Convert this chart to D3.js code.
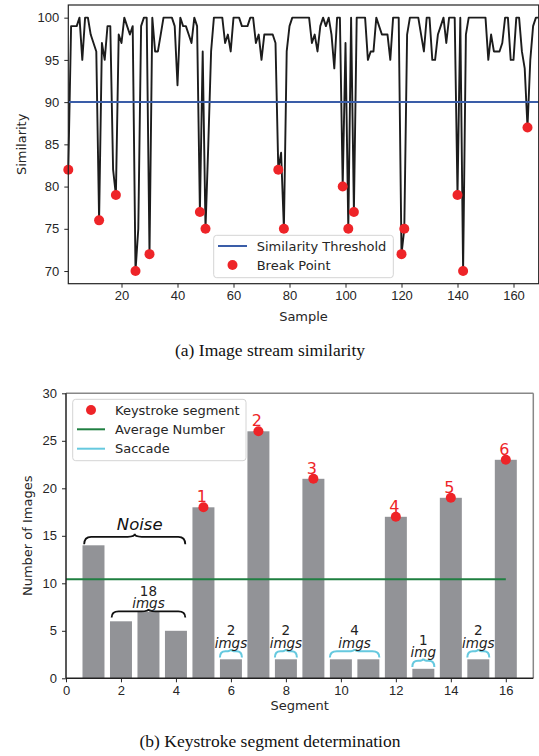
<!DOCTYPE html>
<html lang="en">
<head>
<meta charset="UTF-8" />
<title>Image stream similarity / Keystroke segment determination</title>
<script src="https://d3js.org/d3.v7.min.js"></script>
<style>
  body { margin: 0; background: #fff; }
  svg { display: block; font-family: "DejaVu Sans", sans-serif; }
  .tick text { font-size: 13px; fill: #262626; }
  .tick line { stroke: #262626; }
  .axis-label { font-size: 13px; fill: #262626; }
  .legend text { font-size: 13px; fill: #262626; }
  .caption { font-family: "Liberation Serif", serif; font-size: 17.5px; fill: #111; }
</style>
</head>
<body>
<svg width="539" height="756"></svg>
<script>
// ---- (a) image stream similarity, samples 1..169 ----
const similarity = [
  82, 99, 99, 99, 100, 95, 100, 100, 98, 97,
  96, 76, 97, 95, 99, 99, 82, 79, 98, 97,
  100, 99, 98, 99, 70, 75, 99, 100, 100, 72,
  100, 96, 96, 98, 100, 100, 100, 100, 99, 92,
  100, 99, 99, 98, 97, 100, 99, 77, 96, 75,
  85, 96, 100, 100, 100, 100, 97, 98, 96, 100,
  100, 100, 99, 99, 99, 100, 100, 97, 98, 95,
  98, 98, 98, 98, 97, 82, 84, 75, 96, 99,
  100, 100, 100, 100, 100, 100, 100, 97, 98, 96,
  99, 100, 99, 100, 98, 94, 100, 100, 80, 97,
  75, 100, 77, 100, 100, 100, 100, 95, 96, 96,
  100, 99, 98, 98, 98, 95, 100, 100, 100, 72,
  75, 98, 100, 100, 100, 100, 98, 96, 100, 100,
  95, 95, 98, 99, 100, 97, 100, 100, 100, 79,
  100, 70, 98, 100, 100, 100, 100, 100, 100, 100,
  95, 98, 96, 96, 96, 97, 100, 100, 95, 95,
  100, 100, 96, 94, 87, 95, 99, 100, 100
];
const breakSamples = [1, 12, 18, 25, 30, 48, 50, 76, 78, 99, 101, 103, 120, 121, 140, 142, 165];
const similarityThreshold = 90;
const sampleTicks = [20, 40, 60, 80, 100, 120, 140, 160];
const similarityTicks = [70, 75, 80, 85, 90, 95, 100];

// ---- (b) keystroke segment determination ----
const segments = [1, 2, 3, 4, 5, 6, 7, 8, 9, 10, 11, 12, 13, 14, 15, 16];
const imageCounts = [14, 6, 7, 5, 18, 2, 26, 2, 21, 2, 2, 17, 1, 19, 2, 23];
const keystrokeSegments = [5, 7, 9, 12, 14, 16];
const keystrokeLabels = ["1", "2", "3", "4", "5", "6"];
const saccadeStart = [6, 8, 10, 13, 15];
const saccadeEnd = [6, 8, 11, 13, 15];
const saccadeCounts = ["2", "2", "4", "1", "2"];
const saccadeUnits = ["imgs", "imgs", "imgs", "img", "imgs"];
const noiseSegments = [1, 4];
const noiseImgSegments = [2, 4];
const noiseImgCount = "18";
const segmentTicks = [0, 2, 4, 6, 8, 10, 12, 14, 16];
const imageTicks = [0, 5, 10, 15, 20, 25, 30];

const RED = "#ee2428", BLUE = "#3a5da8", GREEN = "#1f7f41", CYAN = "#66c9df", GREY = "#929397";

const svg = d3.select("svg");

function bracePath(x0, x1, yEnd, h) {
  const mid = (x0 + x1) / 2, yh = yEnd - h * 0.72, yt = yEnd - h;
  const r = Math.min(7, (x1 - x0) / 4);
  return `M${x0},${yEnd} Q${x0},${yh} ${x0 + r},${yh} L${mid - r},${yh} Q${mid},${yh} ${mid},${yt}` +
         ` Q${mid},${yh} ${mid + r},${yh} L${x1 - r},${yh} Q${x1},${yh} ${x1},${yEnd}`;
}

// small "count over unit" label used above the braces
function countLabel(g, x, yEnd, count, unitText) {
  g.append("text")
    .attr("x", x).attr("y", yEnd - 22)
    .attr("text-anchor", "middle").attr("font-size", 13.5).attr("fill", "#222").text(count);
  g.append("text")
    .attr("x", x).attr("y", yEnd - 9.5)
    .attr("text-anchor", "middle").attr("font-size", 13.5).attr("font-style", "italic")
    .attr("fill", "#222").text(unitText);
}

// ================= chart (a) =================
const xA = d3.scaleLinear().domain([1, 169]).range([68.3, 538.7]);
const yA = d3.scaleLinear().domain([68.5, 101.5]).range([283.7, 5]);
const gA = svg.append("g");

gA.append("g")
  .attr("transform", `translate(0,${yA.range()[0]})`)
  .call(d3.axisBottom(xA).tickValues(sampleTicks).tickSize(4).tickPadding(3))
  .call(g => g.select(".domain").remove());
gA.append("g")
  .attr("transform", `translate(${xA.range()[0]},0)`)
  .call(d3.axisLeft(yA).tickValues(similarityTicks).tickSize(4).tickPadding(5))
  .call(g => g.select(".domain").remove());

gA.append("path")
  .datum(similarity)
  .attr("fill", "none")
  .attr("stroke", "#1c1c1c")
  .attr("stroke-width", 1.9)
  .attr("stroke-linejoin", "round")
  .attr("d", d3.line().x((d, i) => xA(i + 1)).y(d => yA(d)));

gA.append("line")
  .attr("x1", xA.range()[0]).attr("x2", xA.range()[1])
  .attr("y1", yA(similarityThreshold)).attr("y2", yA(similarityThreshold))
  .attr("stroke", BLUE).attr("stroke-width", 2);

gA.selectAll(".bp")
  .data(breakSamples)
  .join("circle")
  .attr("class", "bp")
  .attr("cx", d => xA(d))
  .attr("cy", d => yA(similarity[d - 1]))
  .attr("r", 5)
  .attr("fill", RED);

gA.append("rect")
  .attr("x", xA.range()[0]).attr("y", yA.range()[1])
  .attr("width", xA.range()[1] - xA.range()[0])
  .attr("height", yA.range()[0] - yA.range()[1])
  .attr("fill", "none").attr("stroke", "#222").attr("stroke-width", 1.2);

const legA = gA.append("g").attr("class", "legend");
legA.append("rect")
  .attr("x", 213.7).attr("y", 235.3).attr("width", 179.6).attr("height", 42.4).attr("rx", 3)
  .attr("fill", "#fff").attr("fill-opacity", 0.85).attr("stroke", "#d4d4d4");
legA.append("line").attr("x1", 218).attr("x2", 247).attr("y1", 246).attr("y2", 246)
  .attr("stroke", BLUE).attr("stroke-width", 2);
legA.append("circle").attr("cx", 232.5).attr("cy", 265).attr("r", 5).attr("fill", RED);
legA.append("text").attr("x", 256.7).attr("y", 250.5).text("Similarity Threshold");
legA.append("text").attr("x", 256.7).attr("y", 269.5).text("Break Point");

gA.append("text").attr("class", "axis-label")
  .attr("transform", `translate(25.5,${(yA.range()[0] + yA.range()[1]) / 2}) rotate(-90)`)
  .attr("text-anchor", "middle").text("Similarity");
gA.append("text").attr("class", "axis-label")
  .attr("x", (xA.range()[0] + xA.range()[1]) / 2).attr("y", 321)
  .attr("text-anchor", "middle").text("Sample");
gA.append("text").attr("class", "caption")
  .attr("x", 270).attr("y", 356).attr("text-anchor", "middle")
  .text("(a)  Image stream similarity");

// ================= chart (b) =================
const xB = d3.scaleLinear().domain([0, 17]).range([66, 533.3]);
const yB = d3.scaleLinear().domain([0, 30]).range([678.3, 393.3]);
const gB = svg.append("g");
const unit = xB(1) - xB(0);

gB.append("g")
  .attr("transform", `translate(0,${yB.range()[0]})`)
  .call(d3.axisBottom(xB).tickValues(segmentTicks).tickSize(4).tickPadding(3))
  .call(g => g.select(".domain").remove());
gB.append("g")
  .attr("transform", `translate(${xB.range()[0]},0)`)
  .call(d3.axisLeft(yB).tickValues(imageTicks).tickSize(4).tickPadding(5))
  .call(g => g.select(".domain").remove());

gB.selectAll(".bar")
  .data(segments)
  .join("rect")
  .attr("class", "bar")
  .attr("x", d => xB(d - 0.4))
  .attr("width", unit * 0.8)
  .attr("y", (d, i) => yB(imageCounts[i]))
  .attr("height", (d, i) => yB(0) - yB(imageCounts[i]))
  .attr("fill", GREY);

const avg = d3.mean(imageCounts);
gB.append("line")
  .attr("x1", xB(0)).attr("x2", xB(16))
  .attr("y1", yB(avg)).attr("y2", yB(avg))
  .attr("stroke", GREEN).attr("stroke-width", 2);

// keystroke segments
gB.selectAll(".ks")
  .data(keystrokeSegments)
  .join("circle")
  .attr("class", "ks")
  .attr("cx", d => xB(d))
  .attr("cy", d => yB(imageCounts[d - 1]))
  .attr("r", 5)
  .attr("fill", RED);
gB.selectAll(".kslabel")
  .data(keystrokeSegments)
  .join("text")
  .attr("class", "kslabel")
  .attr("x", d => xB(d) - 1.5)
  .attr("y", d => yB(imageCounts[d - 1]) - 5)
  .attr("text-anchor", "middle")
  .attr("font-size", 16)
  .attr("fill", RED)
  .text((d, i) => keystrokeLabels[i]);

// noise braces
function maxCount(a, b) { return d3.max(imageCounts.slice(a - 1, b)); }
const nx0 = xB(noiseSegments[0] - 0.34), nx1 = xB(noiseSegments[1] + 0.34);
const nyEnd = yB(maxCount(noiseSegments[0], noiseSegments[1]) + 0.1);
gB.append("path").attr("d", bracePath(nx0, nx1, nyEnd, 10.5))
  .attr("fill", "none").attr("stroke", "#111").attr("stroke-width", 1.8);
gB.append("text")
  .attr("x", (nx0 + nx1) / 2 + 5).attr("y", nyEnd - 14)
  .attr("text-anchor", "middle").attr("font-size", 16.5).attr("font-style", "italic")
  .attr("fill", "#111").text("Noise");

const mx0 = xB(noiseImgSegments[0] - 0.34), mx1 = xB(noiseImgSegments[1] + 0.34);
const myEnd = yB(maxCount(noiseImgSegments[0], noiseImgSegments[1]) - 0.6);
gB.append("path").attr("d", bracePath(mx0, mx1, myEnd, 8.5))
  .attr("fill", "none").attr("stroke", "#111").attr("stroke-width", 1.8);
countLabel(gB, (mx0 + mx1) / 2, myEnd, noiseImgCount, "imgs");

// saccade braces
saccadeStart.forEach((s, i) => {
  const x0 = xB(s - 0.4), x1 = xB(saccadeEnd[i] + 0.4);
  const yEnd = yB(maxCount(s, saccadeEnd[i]) + 0.2);
  gB.append("path").attr("d", bracePath(x0, x1, yEnd, 8.5))
    .attr("fill", "none").attr("stroke", CYAN).attr("stroke-width", 2);
  countLabel(gB, (x0 + x1) / 2, yEnd, saccadeCounts[i], saccadeUnits[i]);
});

// frame
gB.append("line").attr("x1", xB(0)).attr("x2", xB(17)).attr("y1", yB(30)).attr("y2", yB(30))
  .attr("stroke", "#888").attr("stroke-width", 1.5);
gB.append("line").attr("x1", xB(17)).attr("x2", xB(17)).attr("y1", yB(30)).attr("y2", yB(0))
  .attr("stroke", "#888").attr("stroke-width", 1.5);
gB.append("line").attr("x1", xB(0)).attr("x2", xB(17)).attr("y1", yB(0)).attr("y2", yB(0))
  .attr("stroke", "#222").attr("stroke-width", 1.5);
gB.append("line").attr("x1", xB(0)).attr("x2", xB(0)).attr("y1", yB(30)).attr("y2", yB(0))
  .attr("stroke", "#222").attr("stroke-width", 1.5);

const legB = gB.append("g").attr("class", "legend");
legB.append("rect")
  .attr("x", 72.7).attr("y", 399.3).attr("width", 173.3).attr("height", 61.4).attr("rx", 3)
  .attr("fill", "#fff").attr("fill-opacity", 0.85).attr("stroke", "#d4d4d4");
legB.append("circle").attr("cx", 91).attr("cy", 410).attr("r", 5).attr("fill", RED);
legB.append("line").attr("x1", 77).attr("x2", 105).attr("y1", 429.3).attr("y2", 429.3)
  .attr("stroke", GREEN).attr("stroke-width", 2);
legB.append("line").attr("x1", 77).attr("x2", 105).attr("y1", 448.7).attr("y2", 448.7)
  .attr("stroke", CYAN).attr("stroke-width", 2);
legB.append("text").attr("x", 115).attr("y", 414.5).text("Keystroke segment");
legB.append("text").attr("x", 115).attr("y", 433.8).text("Average Number");
legB.append("text").attr("x", 115).attr("y", 453.2).text("Saccade");

gB.append("text").attr("class", "axis-label")
  .attr("transform", `translate(32,${(yB.range()[0] + yB.range()[1]) / 2}) rotate(-90)`)
  .attr("text-anchor", "middle").text("Number of Images");
gB.append("text").attr("class", "axis-label")
  .attr("x", (xB.range()[0] + xB.range()[1]) / 2).attr("y", 710)
  .attr("text-anchor", "middle").text("Segment");
gB.append("text").attr("class", "caption")
  .attr("x", 270).attr("y", 747).attr("text-anchor", "middle")
  .text("(b)  Keystroke segment determination");
</script>
</body>
</html>
